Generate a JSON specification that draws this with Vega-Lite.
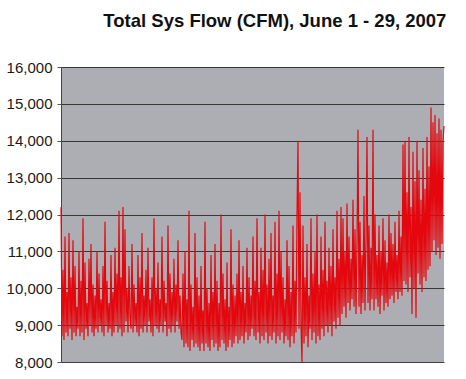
{
  "$schema": "https://vega.github.io/schema/vega-lite/v6.json",
  "width": 383,
  "height": 295,
  "autosize": "none",
  "padding": {"left": 61, "top": 67, "right": 22, "bottom": 17},
  "background": "white",
  "view": {"fill": "#adaeb3", "stroke": null},
  "title": {
    "text": "Total Sys Flow (CFM), June 1 - 29, 2007",
    "anchor": "end",
    "font": "Liberation Sans",
    "fontSize": 18.5,
    "fontWeight": "bold",
    "color": "#111111",
    "offset": 30
  },
  "datasets": {
    "flow": [
      {"i":0,"v":12200},{"i":1,"v":8700},{"i":2,"v":10500},{"i":3,"v":8600},{"i":4,"v":11400},{"i":5,"v":8800},{"i":6,"v":9900},{"i":7,"v":8700},{"i":8,"v":11500},{"i":9,"v":8900},
      {"i":10,"v":10300},{"i":11,"v":8600},{"i":12,"v":11300},{"i":13,"v":8800},{"i":14,"v":10600},{"i":15,"v":8700},{"i":16,"v":9500},{"i":17,"v":8900},{"i":18,"v":11000},{"i":19,"v":8700},
      {"i":20,"v":10200},{"i":21,"v":8800},{"i":22,"v":11900},{"i":23,"v":8600},{"i":24,"v":10700},{"i":25,"v":8900},{"i":26,"v":9600},{"i":27,"v":8700},{"i":28,"v":10800},{"i":29,"v":9000},
      {"i":30,"v":11200},{"i":31,"v":8800},{"i":32,"v":10100},{"i":33,"v":8700},{"i":34,"v":9800},{"i":35,"v":8900},{"i":36,"v":11000},{"i":37,"v":8800},{"i":38,"v":10400},{"i":39,"v":9000},
      {"i":40,"v":9700},
      {"i":41,"v":8800},{"i":42,"v":10600},{"i":43,"v":8700},{"i":44,"v":11800},{"i":45,"v":9000},{"i":46,"v":10200},{"i":47,"v":8800},{"i":48,"v":9600},{"i":49,"v":8900},{"i":50,"v":10900},
      {"i":51,"v":8700},{"i":52,"v":9900},{"i":53,"v":8800},{"i":54,"v":11100},{"i":55,"v":9000},{"i":56,"v":10400},{"i":57,"v":8800},{"i":58,"v":12100},{"i":59,"v":8900},{"i":60,"v":10300},
      {"i":61,"v":8700},{"i":62,"v":12200},{"i":63,"v":8800},{"i":64,"v":11600},{"i":65,"v":9100},{"i":66,"v":10000},{"i":67,"v":8800},{"i":68,"v":10600},{"i":69,"v":9200},{"i":70,"v":8900},
      {"i":71,"v":11200},{"i":72,"v":8800},{"i":73,"v":10100},{"i":74,"v":9000},{"i":75,"v":9600},{"i":76,"v":8800},{"i":77,"v":10900},{"i":78,"v":8700},{"i":79,"v":10300},{"i":80,"v":8900},
      {"i":81,"v":11500},{"i":82,"v":8800},{"i":83,"v":9800},{"i":84,"v":9000},{"i":85,"v":10500},{"i":86,"v":8800},{"i":87,"v":11100},{"i":88,"v":9100},{"i":89,"v":9700},{"i":90,"v":8800},
      {"i":91,"v":10300},{"i":92,"v":8700},{"i":93,"v":11900},{"i":94,"v":9000},{"i":95,"v":10000},{"i":96,"v":8900},{"i":97,"v":10700},{"i":98,"v":8800},{"i":99,"v":9700},{"i":100,"v":9000},
      {"i":101,"v":11400},{"i":102,"v":8800},{"i":103,"v":10200},{"i":104,"v":9100},{"i":105,"v":9600},{"i":106,"v":8700},{"i":107,"v":11700},{"i":108,"v":8900},{"i":109,"v":10400},{"i":110,"v":8800},
      {"i":111,"v":9900},{"i":112,"v":9000},{"i":113,"v":10800},{"i":114,"v":8800},{"i":115,"v":10100},{"i":116,"v":9100},{"i":117,"v":11300},{"i":118,"v":8900},{"i":119,"v":9800},{"i":120,"v":8800},
      {"i":121,"v":8600},{"i":122,"v":10400},{"i":123,"v":8400},{"i":124,"v":11000},{"i":125,"v":8500},{"i":126,"v":9700},{"i":127,"v":8400},{"i":128,"v":12100},{"i":129,"v":8300},{"i":130,"v":10100},
      {"i":131,"v":8600},{"i":132,"v":9500},{"i":133,"v":8400},{"i":134,"v":11500},{"i":135,"v":8500},{"i":136,"v":10300},{"i":137,"v":8400},{"i":138,"v":9800},{"i":139,"v":8300},{"i":140,"v":10600},
      {"i":141,"v":8500},{"i":142,"v":9400},{"i":143,"v":8300},{"i":144,"v":11800},{"i":145,"v":8500},{"i":146,"v":10000},{"i":147,"v":8400},{"i":148,"v":9600},{"i":149,"v":8300},{"i":150,"v":10900},
      {"i":151,"v":8600},{"i":152,"v":9900},{"i":153,"v":8400},{"i":154,"v":11200},{"i":155,"v":8500},{"i":156,"v":10200},{"i":157,"v":8300},{"i":158,"v":9600},{"i":159,"v":8400},{"i":160,"v":12000},
      {"i":161,"v":8600},{"i":162,"v":10400},{"i":163,"v":8500},{"i":164,"v":9700},{"i":165,"v":8300},{"i":166,"v":10700},{"i":167,"v":8400},{"i":168,"v":9500},{"i":169,"v":8600},{"i":170,"v":11600},
      {"i":171,"v":8400},{"i":172,"v":10100},{"i":173,"v":8500},{"i":174,"v":9800},{"i":175,"v":8700},{"i":176,"v":10400},{"i":177,"v":8500},{"i":178,"v":11300},{"i":179,"v":8600},{"i":180,"v":9900},
      {"i":181,"v":8700},{"i":182,"v":10600},{"i":183,"v":8500},{"i":184,"v":9600},{"i":185,"v":8800},{"i":186,"v":11100},{"i":187,"v":8600},{"i":188,"v":10300},{"i":189,"v":8700},{"i":190,"v":9800},
      {"i":191,"v":8900},{"i":192,"v":11400},{"i":193,"v":8700},{"i":194,"v":10200},{"i":195,"v":8600},{"i":196,"v":11900},{"i":197,"v":8800},{"i":198,"v":9900},{"i":199,"v":8500},{"i":200,"v":11100},
      {"i":201,"v":8700},{"i":202,"v":10500},{"i":203,"v":8600},{"i":204,"v":12000},{"i":205,"v":8800},{"i":206,"v":10100},{"i":207,"v":8500},{"i":208,"v":10800},{"i":209,"v":8700},{"i":210,"v":11500},
      {"i":211,"v":8600},{"i":212,"v":9800},{"i":213,"v":8800},{"i":214,"v":11800},{"i":215,"v":8500},{"i":216,"v":10400},{"i":217,"v":8700},{"i":218,"v":12100},{"i":219,"v":8600},{"i":220,"v":11000},
      {"i":221,"v":8800},{"i":222,"v":10300},{"i":223,"v":8500},{"i":224,"v":9700},{"i":225,"v":8700},{"i":226,"v":11300},{"i":227,"v":8600},{"i":228,"v":10600},{"i":229,"v":8400},{"i":230,"v":9900},
      {"i":231,"v":8700},{"i":232,"v":11700},{"i":233,"v":8500},{"i":234,"v":10200},{"i":235,"v":8800},{"i":236,"v":12000},{"i":237,"v":14000},{"i":238,"v":8900},{"i":239,"v":12600},{"i":240,"v":9000},
      {"i":241,"v":8000},{"i":242,"v":11700},{"i":243,"v":8500},{"i":244,"v":10300},{"i":245,"v":8700},{"i":246,"v":11200},{"i":247,"v":8400},{"i":248,"v":9800},{"i":249,"v":8900},{"i":250,"v":11900},
      {"i":251,"v":8600},{"i":252,"v":10400},{"i":253,"v":8800},{"i":254,"v":11000},{"i":255,"v":8500},{"i":256,"v":12000},{"i":257,"v":8700},{"i":258,"v":10100},{"i":259,"v":8600},{"i":260,"v":11400},
      {"i":261,"v":8900},{"i":262,"v":10500},{"i":263,"v":8700},{"i":264,"v":11800},{"i":265,"v":9000},{"i":266,"v":10200},{"i":267,"v":8800},{"i":268,"v":11100},{"i":269,"v":9000},{"i":270,"v":10600},
      {"i":271,"v":8700},{"i":272,"v":11600},{"i":273,"v":9100},{"i":274,"v":10300},{"i":275,"v":8900},{"i":276,"v":12100},{"i":277,"v":9200},{"i":278,"v":10800},{"i":279,"v":9000},{"i":280,"v":12200},
      {"i":281,"v":9300},{"i":282,"v":11900},{"i":283,"v":9500},{"i":284,"v":11000},{"i":285,"v":9200},{"i":286,"v":12300},{"i":287,"v":9600},{"i":288,"v":11400},{"i":289,"v":9400},{"i":290,"v":10800},
      {"i":291,"v":9700},{"i":292,"v":12400},{"i":293,"v":9500},{"i":294,"v":11600},{"i":295,"v":9300},{"i":296,"v":11200},{"i":297,"v":14300},{"i":298,"v":9500},{"i":299,"v":11800},{"i":300,"v":9300},
      {"i":301,"v":10900},{"i":302,"v":9600},{"i":303,"v":12500},{"i":304,"v":9400},{"i":305,"v":11300},{"i":306,"v":14100},{"i":307,"v":9600},{"i":308,"v":11700},{"i":309,"v":9400},{"i":310,"v":11100},
      {"i":311,"v":9700},{"i":312,"v":14300},{"i":313,"v":9400},{"i":314,"v":12000},{"i":315,"v":9700},{"i":316,"v":10900},{"i":317,"v":9500},{"i":318,"v":11700},{"i":319,"v":9300},{"i":320,"v":11000},
      {"i":321,"v":9800},{"i":322,"v":11900},{"i":323,"v":9400},{"i":324,"v":11300},{"i":325,"v":9600},{"i":326,"v":10700},{"i":327,"v":9500},{"i":328,"v":12000},{"i":329,"v":9700},{"i":330,"v":11500},
      {"i":331,"v":9800},{"i":332,"v":11200},{"i":333,"v":9600},{"i":334,"v":11800},{"i":335,"v":9900},{"i":336,"v":10900},{"i":337,"v":9700},{"i":338,"v":12100},{"i":339,"v":9900},{"i":340,"v":11400},
      {"i":341,"v":9800},{"i":342,"v":13900},
      {"i":343,"v":10200},{"i":344,"v":14000},{"i":345,"v":10100},{"i":346,"v":12600},{"i":347,"v":9900},{"i":348,"v":14100},{"i":349,"v":10300},{"i":350,"v":12200},{"i":351,"v":9300},{"i":352,"v":13700},
      {"i":353,"v":10000},{"i":354,"v":12900},{"i":355,"v":9200},{"i":356,"v":14000},{"i":357,"v":10400},{"i":358,"v":13200},{"i":359,"v":10100},{"i":360,"v":12400},{"i":361,"v":9900},{"i":362,"v":13800},
      {"i":363,"v":10300},{"i":364,"v":12700},{"i":365,"v":10200},{"i":366,"v":14100},{"i":367,"v":10500},{"i":368,"v":13300},{"i":369,"v":10600},
      {"i":370,"v":14900},{"i":371,"v":11000},{"i":372,"v":14500},{"i":373,"v":11300},{"i":374,"v":14700},{"i":375,"v":10900},{"i":376,"v":14200},{"i":377,"v":11100},{"i":378,"v":14600},{"i":379,"v":10800},
      {"i":380,"v":14300},{"i":381,"v":11200},{"i":382,"v":14000},{"i":383,"v":14400}
    ]
  },
  "data": {"name": "flow"},
  "mark": {"type": "line", "color": "#e4080e", "strokeWidth": 1.2, "interpolate": "linear"},
  "encoding": {
    "x": {
      "field": "i",
      "type": "quantitative",
      "scale": {"domain": [0, 383], "nice": false, "zero": false},
      "axis": null
    },
    "y": {
      "field": "v",
      "type": "quantitative",
      "scale": {"domain": [8000, 16000], "nice": false, "zero": false},
      "axis": {
        "values": [8000, 9000, 10000, 11000, 12000, 13000, 14000, 15000, 16000],
        "format": ",d",
        "title": null,
        "labelFont": "Liberation Sans",
        "labelFontSize": 15,
        "labelColor": "#1a1a1a",
        "labelPadding": 5,
        "tickSize": 4,
        "tickColor": "#555555",
        "domainColor": "#444444",
        "domainWidth": 1,
        "grid": true,
        "gridColor": "#2a2a2a",
        "gridWidth": 1.2,
        "gridOpacity": 0.9
      }
    }
  }
}
